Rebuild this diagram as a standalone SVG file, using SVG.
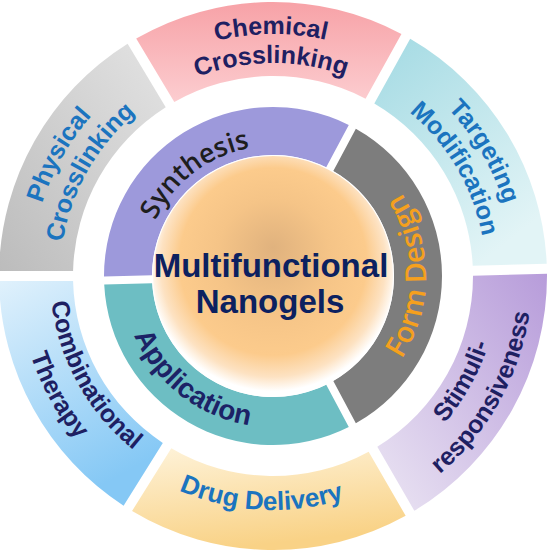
<svg xmlns="http://www.w3.org/2000/svg" width="549" height="550" viewBox="0 0 549 550">
<defs>
  <linearGradient id="gChem" x1="0" y1="0" x2="0" y2="1">
    <stop offset="0" stop-color="#f7a2a7"/><stop offset="1" stop-color="#fccdd0"/>
  </linearGradient>
  <linearGradient id="gTarg" x1="0" y1="0" x2="0.6" y2="1">
    <stop offset="0" stop-color="#a3dae3"/><stop offset="1" stop-color="#e2f4f6"/>
  </linearGradient>
  <linearGradient id="gStim" x1="1" y1="0" x2="0" y2="1">
    <stop offset="0" stop-color="#b79cda"/><stop offset="1" stop-color="#ebe5f3"/>
  </linearGradient>
  <linearGradient id="gDrug" x1="0" y1="0" x2="0.3" y2="1">
    <stop offset="0" stop-color="#fef3da"/><stop offset="1" stop-color="#f9d286"/>
  </linearGradient>
  <linearGradient id="gComb" x1="0" y1="0" x2="0.4" y2="1">
    <stop offset="0" stop-color="#e0f1fc"/><stop offset="1" stop-color="#85c8f5"/>
  </linearGradient>
  <linearGradient id="gPhys" x1="0" y1="1" x2="1" y2="0">
    <stop offset="0" stop-color="#bcbcbc"/><stop offset="1" stop-color="#e3e3e3"/>
  </linearGradient>
  <radialGradient id="gCore" cx="0.5" cy="0.46" r="0.52" fx="0.5" fy="0.38">
    <stop offset="0" stop-color="#e0b27e"/>
    <stop offset="0.45" stop-color="#f5c487"/>
    <stop offset="0.75" stop-color="#fccb8c"/>
    <stop offset="0.9" stop-color="#fde2c2"/>
    <stop offset="1" stop-color="#ffffff"/>
  </radialGradient>
  <!-- clockwise arcs centred at top (text tops outward) -->
  <path id="cw242" d="M34.68 233.98 A242 242 0 0 1 511.32 233.98"/>
  <path id="cw213" d="M63.24 239.01 A213 213 0 0 1 482.76 239.01"/>
  <path id="cw130" d="M144.97 253.43 A130 130 0 0 1 401.03 253.43"/>
  <!-- counter-clockwise arcs centred at bottom (text tops inward) -->
  <path id="ccw226" d="M50.43 315.24 A226 226 0 0 0 495.57 315.24"/>
  <path id="ccw259" d="M17.93 320.98 A259 259 0 0 0 528.07 320.98"/>
  <path id="ccw223" d="M53.39 314.72 A223 223 0 0 0 492.61 314.72"/>
  <path id="ccw255" d="M21.87 320.28 A255 255 0 0 0 524.13 320.28"/>
  <path id="ccw234" d="M42.55 316.63 A234 234 0 0 0 503.45 316.63"/>
  <path id="ccw153" d="M122.32 302.57 A153 153 0 0 0 423.68 302.57"/>
  <path id="ccw151" d="M124.29 302.22 A151 151 0 0 0 421.71 302.22"/>
</defs>
<style>
  .lbl{font-family:"Liberation Sans",Arial,sans-serif;font-weight:bold;font-size:25px;text-anchor:middle}
  .navy{fill:#1e2062}
  .blue{fill:#1b74bf}
  .inner{font-family:"Open Sans","Liberation Sans",sans-serif;font-weight:600;text-anchor:middle}
  .core{font-family:"Liberation Sans",Arial,sans-serif;font-weight:bold;font-size:33px;fill:#0c2160;text-anchor:middle}
</style>
<rect width="549" height="550" fill="#ffffff"/>

<g id="outer-chemical">
  <path d="M401.44 33.97 A274 274 0 0 0 136.19 38.60 L174.31 102.05 A200 200 0 0 1 365.56 98.71 Z" fill="url(#gChem)"/>
  <text class="lbl navy" transform="rotate(-0.5 273 276)"><textPath href="#cw242" startOffset="50%">Chemical</textPath></text>
  <text class="lbl navy" transform="rotate(-0.5 273 276)"><textPath href="#cw213" startOffset="50%">Crosslinking</textPath></text>
</g>
<g id="outer-targeting">
  <path d="M546.73 263.83 A274 274 0 0 0 410.19 38.82 L374.31 103.56 A200 200 0 0 1 472.74 265.77 Z" fill="url(#gTarg)"/>
  <text class="lbl blue" transform="rotate(59.5 273 276)"><textPath href="#cw242" startOffset="50%">Targeting</textPath></text>
  <text class="lbl blue" transform="rotate(59.5 273 276)"><textPath href="#cw213" startOffset="50%">Modification</textPath></text>
</g>
<g id="outer-stimuli">
  <path d="M414.31 510.75 A274 274 0 0 0 546.99 273.83 L473.00 275.76 A200 200 0 0 1 377.30 446.65 Z" fill="url(#gStim)"/>
  <text class="lbl navy" transform="rotate(-61 273 276)"><textPath href="#ccw226" startOffset="50%">Stimuli-</textPath></text>
  <text class="lbl navy" transform="rotate(-61 273 276)"><textPath href="#ccw259" startOffset="50%">responsiveness</textPath></text>
</g>
<g id="outer-drug">
  <path d="M132.07 510.98 A274 274 0 0 0 405.65 515.75 L368.64 451.65 A200 200 0 0 1 171.29 448.21 Z" fill="url(#gDrug)"/>
  <text class="lbl blue" style="font-size:26px" transform="rotate(3 273 276)"><textPath href="#ccw234" startOffset="50%">Drug Delivery</textPath></text>
</g>
<g id="outer-combinational">
  <path d="M-0.95 281.00 A274 274 0 0 0 123.59 505.68 L162.81 442.91 A200 200 0 0 1 73.06 281.00 Z" fill="url(#gComb)"/>
  <text class="lbl navy" transform="rotate(61 273 276)"><textPath href="#ccw223" startOffset="50%">Combinational</textPath></text>
  <text class="lbl navy" transform="rotate(61 273 276)"><textPath href="#ccw255" startOffset="50%">Therapy</textPath></text>
</g>
<g id="outer-physical">
  <path d="M127.62 43.75 A274 274 0 0 0 -0.95 271.00 L73.06 271.00 A200 200 0 0 1 165.74 107.19 Z" fill="url(#gPhys)"/>
  <text class="lbl blue" transform="rotate(-60.5 273 276)"><textPath href="#cw242" startOffset="50%">Physical</textPath></text>
  <text class="lbl blue" transform="rotate(-60.5 273 276)"><textPath href="#cw213" startOffset="50%">Crosslinking</textPath></text>
</g>

<g id="inner-synthesis">
  <path d="M348.79 124.94 A169 169 0 0 0 104.00 276.42 L152.00 275.17 A121 121 0 0 1 326.24 167.34 Z" fill="#9d99db"/>
  <text class="inner" style="font-size:27px;fill:#1e1e1e" transform="rotate(-37.5 273 276)"><textPath href="#cw130" startOffset="50%">Synthesis</textPath></text>
</g>
<g id="inner-form-design">
  <path d="M355.85 423.30 A169 169 0 0 0 355.85 128.70 L333.31 171.10 A121 121 0 0 1 333.31 380.90 Z" fill="#7d7d7d"/>
  <text class="inner" style="font-size:29px;fill:#f5a01e" transform="rotate(-90 273 276)"><textPath href="#ccw153" startOffset="50%">Form Design</textPath></text>
</g>
<g id="inner-application">
  <path d="M104.21 284.42 A169 169 0 0 0 348.79 427.06 L326.24 384.66 A121 121 0 0 1 152.21 283.16 Z" fill="#6dbec3"/>
  <text class="lbl" style="font-size:28px;fill:#1c2266" transform="rotate(38 273 276)"><textPath href="#ccw151" startOffset="50%">Application</textPath></text>
</g>

<g id="core">
  <circle cx="273" cy="276" r="121" fill="#ffffff"/>
  <circle cx="273" cy="276" r="120" fill="url(#gCore)"/>
  <text class="core" x="271" y="277">Multifunctional</text>
  <text class="core" x="270" y="313">Nanogels</text>
</g>
</svg>
